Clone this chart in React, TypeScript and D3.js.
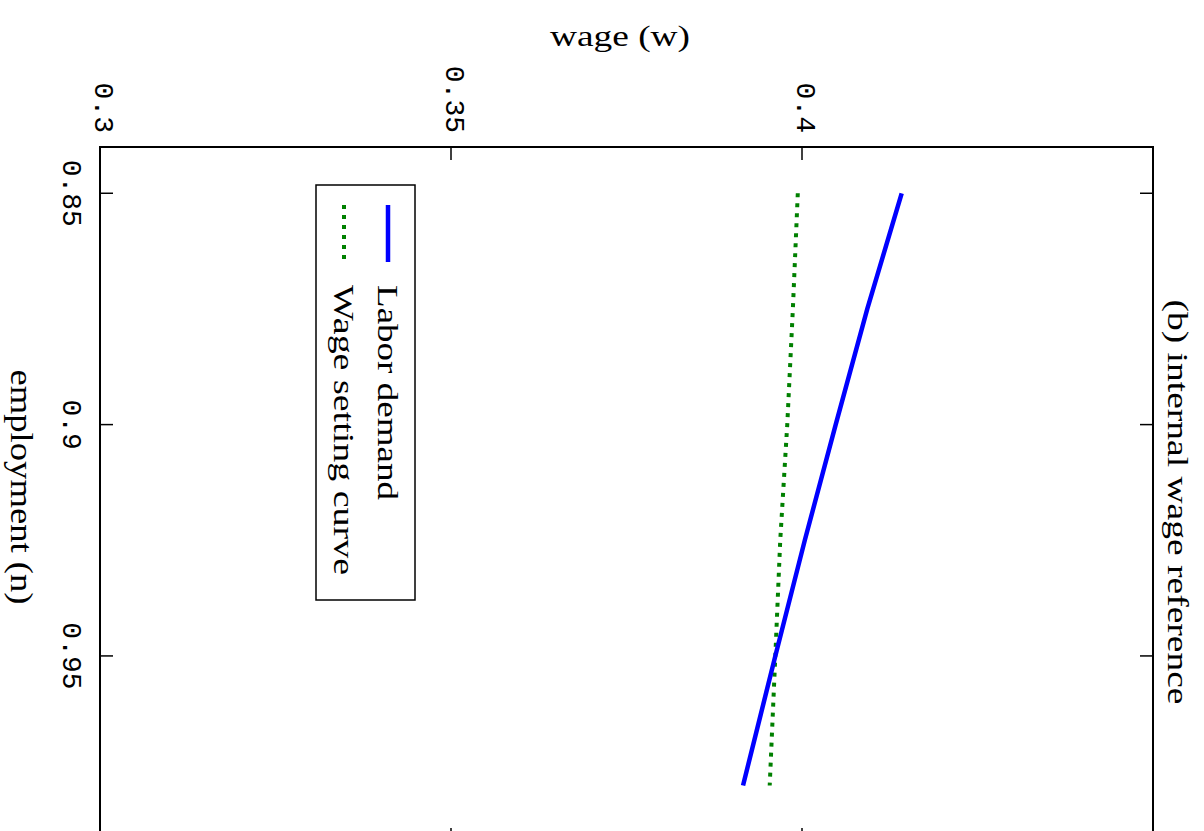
import * as d3 from 'd3'

// employment (n) and the two curves
const employment = [0.85, 0.875, 0.9, 0.925, 0.95, 0.978]
const laborDemand = [0.4142, 0.4093, 0.4048, 0.4004, 0.3962, 0.3916]
const wageSetting = [0.3994, 0.3987, 0.3979, 0.3969, 0.3962, 0.3954]

const wageTicks = [0.3, 0.35, 0.4]
const wageTickMarks = [0.3, 0.35, 0.4, 0.45]
const employmentTicks = [0.85, 0.9, 0.95]

const legendLabels = ['Labor demand', 'Wage setting curve']

export default function App() {
    // the figure is turned 90deg clockwise: wage runs left->right, employment top->bottom
    const left = 100, right = 1153, top = 147, bottom = 841
    const xScale = d3.scaleLinear().domain([0.3, 0.45]).range([left, right])
    const yScale = d3.scaleLinear().domain([0.84, 0.99]).range([top, bottom])

    const line = d3.line<[number, number]>()
        .x(d => xScale(d[1]))
        .y(d => yScale(d[0]))

    const demandPath = line(employment.map((n, i) => [n, laborDemand[i]]))
    const settingPath = line(employment.map((n, i) => [n, wageSetting[i]]))

    const serif = '"Liberation Serif", "Times New Roman", serif'
    const mono = '"Liberation Mono", "Courier New", monospace'
    const tickLen = 13

    const rot = (x: number, y: number) => `translate(${x},${y}) rotate(90)`

    return (
        <svg width={1204} height={831}
            style={{position: 'absolute', left: 0, top: 0, background: 'white'}}>
            {/* curves */}
            <path d={settingPath ?? ''} fill="none" stroke="#008000" strokeWidth={4}
                strokeDasharray="4,6" />
            <path d={demandPath ?? ''} fill="none" stroke="#0000ff" strokeWidth={4.5} />

            {/* axes box */}
            <rect x={left} y={top} width={right - left} height={bottom - top}
                fill="none" stroke="black" strokeWidth={2} />

            {wageTickMarks.map(w => (
                <g key={'wt' + w}>
                    <line x1={xScale(w)} x2={xScale(w)} y1={top} y2={top + tickLen} stroke="black" strokeWidth={1.5} />
                    <line x1={xScale(w)} x2={xScale(w)} y1={bottom} y2={bottom - tickLen} stroke="black" strokeWidth={1.5} />
                </g>
            ))}
            {employmentTicks.map(n => (
                <g key={'et' + n}>
                    <line x1={left} x2={left + tickLen} y1={yScale(n)} y2={yScale(n)} stroke="black" strokeWidth={1.5} />
                    <line x1={right} x2={right - tickLen} y1={yScale(n)} y2={yScale(n)} stroke="black" strokeWidth={1.5} />
                </g>
            ))}

            {/* tick labels */}
            {wageTicks.map(w => (
                <text key={'wl' + w} transform={rot(xScale(w) + 2, 133)} textAnchor="end"
                    dominantBaseline="central" fontFamily={mono} fontSize={28}>{w}</text>
            ))}
            {employmentTicks.map(n => (
                <text key={'el' + n} transform={rot(70, yScale(n))} textAnchor="middle"
                    dominantBaseline="central" fontFamily={mono} fontSize={28}>{n}</text>
            ))}

            {/* axis labels and title */}
            <text x={620} y={35} textAnchor="middle" dominantBaseline="central"
                fontFamily={serif} fontSize={30} textLength={140} lengthAdjust="spacingAndGlyphs">wage (w)</text>
            <text transform={rot(21, 487)} textAnchor="middle" dominantBaseline="central"
                fontFamily={serif} fontSize={31} textLength={235} lengthAdjust="spacingAndGlyphs">employment (n)</text>
            <text transform={rot(1178, 502)} textAnchor="middle" dominantBaseline="central"
                fontFamily={serif} fontSize={30} textLength={405} lengthAdjust="spacingAndGlyphs">(b) internal wage reference</text>

            {/* legend */}
            <rect x={316} y={185} width={99} height={415} fill="white" stroke="black" strokeWidth={1.5} />
            <line x1={388} x2={388} y1={205} y2={262} stroke="#0000ff" strokeWidth={4.5} />
            <line x1={344} x2={344} y1={205} y2={262} stroke="#008000" strokeWidth={4} strokeDasharray="4,6" />
            <text transform={rot(388, 285)} dominantBaseline="central" fontFamily={serif}
                fontSize={30} textLength={215} lengthAdjust="spacingAndGlyphs">{legendLabels[0]}</text>
            <text transform={rot(344, 285)} dominantBaseline="central" fontFamily={serif}
                fontSize={30} textLength={290} lengthAdjust="spacingAndGlyphs">{legendLabels[1]}</text>
        </svg>
    )
}
